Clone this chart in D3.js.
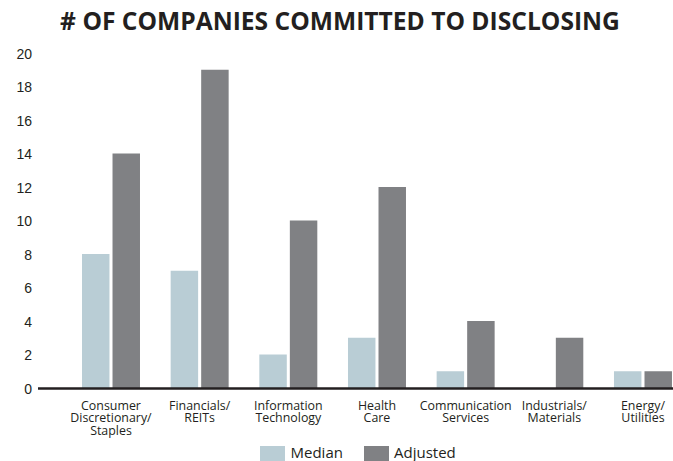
<!DOCTYPE html>
<html>
<head>
<meta charset="utf-8">
<script src="https://cdn.jsdelivr.net/npm/d3@7"></script>
<style>
  html, body { margin: 0; padding: 0; background: #fff; }
  svg { display: block; }
</style>
</head>
<body>
<svg id="chart" width="673" height="461"></svg>
<script>
const categories = [
  ["Consumer", "Discretionary/", "Staples"],
  ["Financials/", "REITs"],
  ["Information", "Technology"],
  ["Health", "Care"],
  ["Communication", "Services"],
  ["Industrials/", "Materials"],
  ["Energy/", "Utilities"]
];
const seriesNames = ["Median", "Adjusted"];
const medianValues = [8, 7, 2, 3, 1, 0, 1];
const adjustedValues = [14, 19, 10, 12, 4, 3, 1];
const yTicks = [0, 2, 4, 6, 8, 10, 12, 14, 16, 18, 20];
const titleText = "# OF COMPANIES COMMITTED TO DISCLOSING";

const colors = { Median: "#b9cdd5", Adjusted: "#808184" };
const textColor = "#231f20";

const svg = d3.select("#chart");
const keys = categories.map(c => c.join(" "));
const rows = keys.map((k, i) => ({ key: k, lines: categories[i], Median: medianValues[i], Adjusted: adjustedValues[i] }));

const y = d3.scaleLinear().domain([0, 20]).range([388, 53]);
const x0 = d3.scaleBand().domain(keys).range([66.66, 687.3]).paddingInner(0.346).paddingOuter(0.173);
const x1 = d3.scaleBand().domain(seriesNames).range([0, x0.bandwidth()]).paddingInner(0.1);

// Title
const title = svg.append("text")
  .attr("x", 340).attr("y", 30)
  .attr("text-anchor", "middle")
  .attr("font-family", "'Open Sans', sans-serif")
  .attr("font-weight", 700)
  .attr("font-size", 21)
  .attr("fill", textColor)
  .text(titleText);
const tl = title.node().getComputedTextLength();
if (tl > 0) title.attr("font-size", 21 * 560 / tl);

// Y axis labels
const yAxis = d3.axisLeft(y).tickValues(yTicks).tickSize(0).tickPadding(0);
const yg = svg.append("g").attr("transform", "translate(32,1)").call(yAxis);
yg.select(".domain").remove();
yg.selectAll("text")
  .attr("font-family", "'Liberation Sans', Arial, sans-serif")
  .attr("font-size", 14)
  .attr("fill", textColor);

// Bars
const groups = svg.append("g").selectAll("g").data(rows).join("g")
  .attr("transform", d => `translate(${x0(d.key)},0)`);
groups.selectAll("rect")
  .data(d => seriesNames.map(s => ({ s, v: d[s] })))
  .join("rect")
  .attr("x", d => x1(d.s))
  .attr("width", x1.bandwidth())
  .attr("y", d => y(d.v))
  .attr("height", d => y(0) - y(d.v))
  .attr("fill", d => colors[d.s]);

// Baseline
svg.append("line")
  .attr("x1", 38).attr("x2", 673)
  .attr("y1", y(0) + 0.6).attr("y2", y(0) + 0.6)
  .attr("stroke", textColor).attr("stroke-width", 2.5);

// X axis category labels
const xAxis = d3.axisBottom(x0).tickSize(0).tickFormat(() => "");
const xg = svg.append("g").attr("transform", `translate(0,${y(0)})`).call(xAxis);
xg.select(".domain").remove();
xg.selectAll(".tick text").remove();
xg.selectAll(".tick").each(function(k) {
  const row = rows.find(r => r.key === k);
  const t = d3.select(this).append("text")
    .attr("text-anchor", "middle")
    .attr("font-family", "'Open Sans', sans-serif")
    .attr("font-size", 12.4)
    .attr("fill", textColor);
  row.lines.forEach((ln, i) => {
    t.append("tspan").attr("x", 0).attr("y", 21.5 + i * 12.5).text(ln);
  });
});

// Legend
const legend = svg.append("g");
const legendItems = [
  { s: "Median", x: 260, tx: 290.5 },
  { s: "Adjusted", x: 364, tx: 394 }
];
legendItems.forEach(it => {
  legend.append("rect").attr("x", it.x).attr("y", 446).attr("width", 25).attr("height", 16).attr("fill", colors[it.s]);
  legend.append("text").attr("x", it.tx).attr("y", 458)
    .attr("font-family", "'Open Sans', sans-serif")
    .attr("font-size", 15)
    .attr("fill", textColor)
    .text(it.s);
});
</script>
</body>
</html>
